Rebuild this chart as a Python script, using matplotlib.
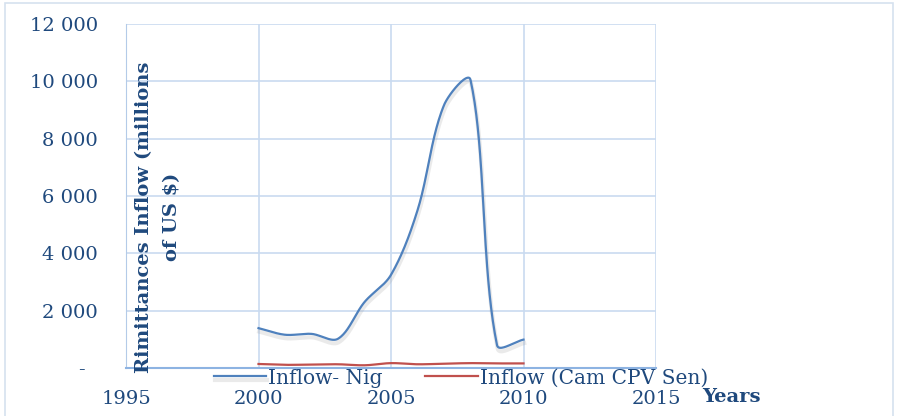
import numpy as np
import matplotlib
matplotlib.use('Agg')
import matplotlib.pyplot as plt
import matplotlib.patheffects as pe
from matplotlib.patches import Rectangle
from matplotlib.ticker import FuncFormatter

years = [2000, 2001, 2002, 2003, 2004, 2005, 2006, 2007, 2008, 2009, 2010]
inflow_nig = [1390, 1160, 1190, 1020, 2300, 3250, 5500, 9170, 10050, 800, 990]
inflow_cam_cpv_sen = [140, 110, 120, 130, 95, 170, 130, 150, 170, 160, 160]

TXT = '#1f497d'
GRID = '#c9daf0'
plt.rcParams['font.family'] = ['DejaVu Serif']

X0, X1, Y0, Y1 = 1995, 2015, 0, 12000
AX_W, AX_H = 530, 344  # axes size in pixels


def smooth(x, y, n=40, s=1 / 3):
    # Excel-style smoothed line: Bezier through the points, handles scaled
    # by neighbouring segment lengths (measured on screen)
    x = np.asarray(x, float)
    y = np.asarray(y, float)
    P = np.column_stack([(x - X0) / (X1 - X0) * AX_W, (y - Y0) / (Y1 - Y0) * AX_H])
    m = len(P)
    L = np.linalg.norm(np.diff(P, axis=0), axis=1)
    out = []
    t = np.linspace(0, 1, n, endpoint=False)[:, None]
    for i in range(m - 1):
        p1, p2 = P[i], P[i + 1]
        p0 = P[i - 1] if i > 0 else p1
        p3 = P[i + 2] if i + 2 < m else p2
        l0 = L[i - 1] if i > 0 else 0
        l2 = L[i + 1] if i + 2 < m else 0
        c1 = p1 + (p2 - p0) * s * L[i] / (l0 + L[i])
        c2 = p2 - (p3 - p1) * s * L[i] / (L[i] + l2)
        out.append((1 - t) ** 3 * p1 + 3 * (1 - t) ** 2 * t * c1
                   + 3 * (1 - t) * t ** 2 * c2 + t ** 3 * p2)
    out.append(P[-1][None, :])
    out = np.vstack(out)
    return X0 + out[:, 0] / AX_W * (X1 - X0), Y0 + out[:, 1] / AX_H * (Y1 - Y0)


fig = plt.figure(figsize=(8.99, 4.16), dpi=100)
fig.patches.append(Rectangle((5 / 899, -0.05), 888 / 899, 1.05 - 3 / 416,
                             transform=fig.transFigure, fill=False,
                             edgecolor='#d6e1ef', linewidth=1.2))

ax = fig.add_axes([126 / 899, 1 - 368 / 416, AX_W / 899, AX_H / 416])

sx, sy = smooth(years, inflow_nig)
shadow = [pe.SimpleLineShadow(offset=(0.5, -2.5), shadow_color='#909090', alpha=0.18, linewidth=3),
          pe.Normal()]
l1, = ax.plot(sx, sy, color='#4f81bd', linewidth=1.6, path_effects=shadow, label='Inflow- Nig')
sx, sy = smooth(years, inflow_cam_cpv_sen)
l2, = ax.plot(sx, sy, color='#c0504d', linewidth=1.6, label='Inflow (Cam CPV Sen)')

ax.set_xlim(X0, X1)
ax.set_ylim(Y0, Y1)
ax.set_xticks([1995, 2000, 2005, 2010, 2015])
ax.set_yticks(range(0, 12001, 2000))
ax.yaxis.set_major_formatter(FuncFormatter(
    lambda v, p: '-  ' if v == 0 else f'{int(v):,}'.replace(',', ' ')))
ax.grid(True, color=GRID, linewidth=1.2)
ax.set_axisbelow(True)
for s in ['top', 'right']:
    ax.spines[s].set_visible(False)
ax.spines['left'].set_color('#b4cbe8')
ax.spines['bottom'].set_color('#8db3e2')
ax.spines['bottom'].set_linewidth(1.5)
ax.tick_params(length=0, labelsize=14, labelcolor=TXT)
ax.tick_params(axis='x', pad=16)
ax.tick_params(axis='y', pad=20)

fig.text(158 / 899, 1 - 217 / 416, 'Rimittances Inflow (millions\nof US $)',
         rotation=90, ha='center', va='center',
         fontsize=14, fontweight='bold', color=TXT, linespacing=1.75)
fig.text(731 / 899, 1 - 397 / 416, 'Years', ha='center', va='center',
         fontsize=14, fontweight='bold', color=TXT)

fig.legend(handles=[l1, l2], loc='center left', bbox_to_anchor=(214 / 899, 1 - 378 / 416),
           ncol=2, frameon=False, fontsize=14.5, labelcolor=TXT, handlelength=2.6,
           handletextpad=0.1, columnspacing=2.1, borderpad=0, borderaxespad=0)

fig.savefig('out.png', dpi=100)
